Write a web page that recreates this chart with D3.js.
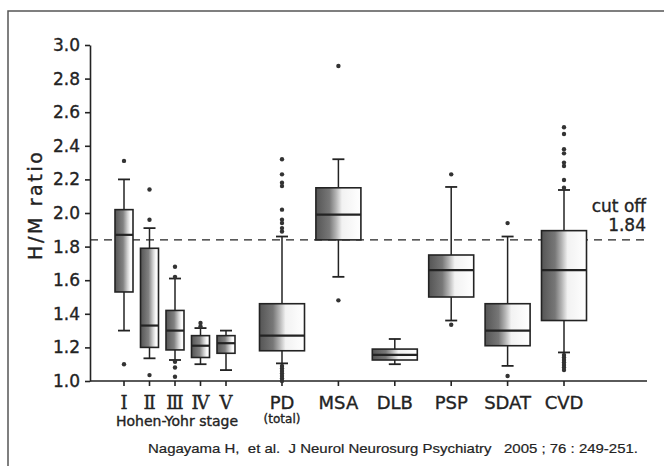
<!DOCTYPE html>
<html>
<head>
<meta charset="utf-8">
<script src="https://cdn.jsdelivr.net/npm/d3@7"></script>
<style>
  body { margin: 0; background: #fff; }
  svg { display: block; }
  svg text { stroke: #232323; stroke-width: 0.35px; }
</style>
</head>
<body>
<div id="chart"></div>
<script>
// H/M ratio per group (box plot)
var stages = ['Ⅰ', 'Ⅱ', 'Ⅲ', 'Ⅳ', 'Ⅴ'];
var groups = ['PD', 'MSA', 'DLB', 'PSP', 'SDAT', 'CVD'];
var categories = stages.concat(groups);

var whiskerLow  = [1.30, 1.135, 1.125, 1.10, 1.065, 1.105, 1.62, 1.10, 1.36, 1.09, 1.17];
var q1          = [1.53, 1.20, 1.185, 1.14, 1.165, 1.18, 1.84, 1.125, 1.50, 1.21, 1.36];
var median      = [1.87, 1.33, 1.30, 1.21, 1.225, 1.27, 1.99, 1.155, 1.66, 1.30, 1.66];
var q3          = [2.02, 1.79, 1.42, 1.27, 1.27, 1.46, 2.15, 1.19, 1.75, 1.46, 1.895];
var whiskerHigh = [2.20, 1.91, 1.61, 1.315, 1.30, 1.86, 2.32, 1.25, 2.155, 1.86, 2.137];
var outliers = [
  [2.31, 1.10],
  [2.14, 1.96, 1.035],
  [1.68, 1.62, 1.115, 1.08, 1.025],
  [1.345, 1.325],
  [],
  [2.32, 2.23, 2.18, 2.16, 2.02, 1.96, 1.94, 1.91, 1.89, 1.09, 1.075, 1.06, 1.045, 1.03, 1.015, 1.0],
  [2.875, 1.48],
  [],
  [2.23, 1.335],
  [1.94, 1.03],
  [2.51, 2.47, 2.38, 2.355, 2.30, 2.28, 2.196, 2.15, 1.155, 1.14, 1.125, 1.11, 1.095, 1.08, 1.065]
];

var yTicks = [1.0, 1.2, 1.4, 1.6, 1.8, 2.0, 2.2, 2.4, 2.6, 2.8, 3.0];
var cutOff = 1.84;

var width = 664, height = 466;
var ink = '#232323';
var sans = 'DejaVu Sans, Arial, sans-serif';

var svg = d3.select('#chart').append('svg')
  .attr('width', width)
  .attr('height', height);

var y = d3.scaleLinear().domain([1, 3]).range([381, 45]);
var xStage = d3.scalePoint().domain(stages).range([124, 226]);
var xGroup = d3.scalePoint().domain(groups).range([282, 564]);

function isStage(c) { return stages.indexOf(c) >= 0; }
function xPos(c) { return isStage(c) ? xStage(c) : xGroup(c); }
function boxW(c) { return isStage(c) ? 18 : 45; }

// shaded fill: dark on the left fading to white
var defs = svg.append('defs');
function addGrad(id, stops) {
  var g = defs.append('linearGradient').attr('id', id)
    .attr('x1', '0').attr('x2', '1').attr('y1', '0').attr('y2', '0');
  stops.forEach(function(s) {
    g.append('stop').attr('offset', s[0]).attr('stop-color', s[1]);
  });
}
addGrad('fillWide', [[0, '#555'], [0.3, '#777'], [0.45, '#b5b5b5'], [0.58, '#f2f2f2'], [1, '#fff']]);
addGrad('fillNarrow', [[0, '#555'], [0.45, '#818181'], [0.7, '#d2d2d2'], [0.85, '#fafafa'], [1, '#fff']]);

// frame round the figure
svg.append('rect')
  .attr('x', 8).attr('y', 11)
  .attr('width', 700).attr('height', 500)
  .attr('fill', 'none')
  .attr('stroke', '#555')
  .attr('stroke-width', 1.5);

// y axis
var yAxis = d3.axisLeft(y)
  .tickValues(yTicks)
  .tickFormat(d3.format('.1f'))
  .tickSizeInner(5)
  .tickSizeOuter(0)
  .tickPadding(5);

var gy = svg.append('g').attr('transform', 'translate(90,0)').call(yAxis);
gy.select('.domain').attr('stroke', ink).attr('stroke-width', 1.6);
gy.selectAll('.tick line').attr('stroke', ink).attr('stroke-width', 1.6);
gy.selectAll('.tick text')
  .attr('fill', ink)
  .style('font-family', sans)
  .style('font-size', '17px');

svg.append('text')
  .attr('transform', 'translate(42,206) rotate(-90)')
  .attr('text-anchor', 'middle')
  .attr('fill', ink)
  .attr('textLength', 108)
  .attr('lengthAdjust', 'spacing')
  .style('font-family', sans)
  .style('font-size', '19px')
  .text('H/M ratio');

// x axis line and ticks
svg.append('line')
  .attr('x1', 90).attr('x2', 647)
  .attr('y1', y(1)).attr('y2', y(1))
  .attr('stroke', ink).attr('stroke-width', 1.6);

svg.selectAll('.xtick')
  .data(categories)
  .enter()
  .append('line')
  .attr('class', 'xtick')
  .attr('x1', function(d) { return xPos(d); })
  .attr('x2', function(d) { return xPos(d); })
  .attr('y1', y(1)).attr('y2', y(1) + 5)
  .attr('stroke', ink).attr('stroke-width', 1.6);

svg.selectAll('.xlabel')
  .data(categories)
  .enter()
  .append('text')
  .attr('class', 'xlabel')
  .attr('x', function(d) { return xPos(d); })
  .attr('y', 409)
  .attr('text-anchor', 'middle')
  .attr('fill', ink)
  .style('font-family', function(d) { return isStage(d) ? 'DejaVu Serif, Liberation Serif, serif' : sans; })
  .style('font-size', '18px')
  .text(function(d) { return d; });

svg.append('text')
  .attr('x', xGroup('PD')).attr('y', 423)
  .attr('text-anchor', 'middle')
  .attr('fill', ink)
  .style('font-family', sans)
  .style('font-size', '12px')
  .text('(total)');

svg.append('text')
  .attr('x', 177).attr('y', 426)
  .attr('text-anchor', 'middle')
  .attr('fill', ink)
  .attr('textLength', 122)
  .attr('lengthAdjust', 'spacingAndGlyphs')
  .style('font-family', sans)
  .style('font-size', '13.5px')
  .text('Hohen-Yohr stage');

// cut off line
svg.append('line')
  .attr('x1', 90).attr('x2', 647)
  .attr('y1', y(cutOff)).attr('y2', y(cutOff))
  .attr('stroke', ink)
  .attr('stroke-width', 1.4)
  .attr('stroke-dasharray', '8,6');

svg.append('text')
  .attr('x', 646).attr('y', 212)
  .attr('text-anchor', 'end')
  .attr('fill', ink)
  .style('font-family', sans)
  .style('font-size', '17px')
  .text('cut off');

svg.append('text')
  .attr('x', 646).attr('y', 231)
  .attr('text-anchor', 'end')
  .attr('fill', ink)
  .style('font-family', sans)
  .style('font-size', '17px')
  .text(cutOff.toFixed(2));

// boxes
var boxes = svg.selectAll('.box')
  .data(categories)
  .enter()
  .append('g')
  .attr('class', 'box');

boxes.append('line') // whisker, low side
  .attr('x1', function(d) { return xPos(d); })
  .attr('x2', function(d) { return xPos(d); })
  .attr('y1', function(d, i) { return y(whiskerLow[i]); })
  .attr('y2', function(d, i) { return y(q1[i]); })
  .attr('stroke', ink).attr('stroke-width', 1.5);

boxes.append('line') // whisker, high side
  .attr('x1', function(d) { return xPos(d); })
  .attr('x2', function(d) { return xPos(d); })
  .attr('y1', function(d, i) { return y(q3[i]); })
  .attr('y2', function(d, i) { return y(whiskerHigh[i]); })
  .attr('stroke', ink).attr('stroke-width', 1.5);

[whiskerLow, whiskerHigh].forEach(function(arr) {
  boxes.append('line')
    .attr('x1', function(d) { return xPos(d) - 6; })
    .attr('x2', function(d) { return xPos(d) + 6; })
    .attr('y1', function(d, i) { return y(arr[i]); })
    .attr('y2', function(d, i) { return y(arr[i]); })
    .attr('stroke', ink).attr('stroke-width', 1.8);
});

boxes.append('rect')
  .attr('x', function(d) { return xPos(d) - boxW(d) / 2; })
  .attr('width', function(d) { return boxW(d); })
  .attr('y', function(d, i) { return y(q3[i]); })
  .attr('height', function(d, i) { return y(q1[i]) - y(q3[i]); })
  .attr('fill', function(d) { return isStage(d) ? 'url(#fillNarrow)' : 'url(#fillWide)'; })
  .attr('stroke', ink).attr('stroke-width', 1.6);

boxes.append('line') // median
  .attr('x1', function(d) { return xPos(d) - boxW(d) / 2; })
  .attr('x2', function(d) { return xPos(d) + boxW(d) / 2; })
  .attr('y1', function(d, i) { return y(median[i]); })
  .attr('y2', function(d, i) { return y(median[i]); })
  .attr('stroke', ink).attr('stroke-width', 2.2);

boxes.selectAll('circle')
  .data(function(d, i) { return outliers[i].map(function(v) { return {c: d, v: v}; }); })
  .enter()
  .append('circle')
  .attr('cx', function(o) { return xPos(o.c); })
  .attr('cy', function(o) { return y(o.v); })
  .attr('r', 2.2)
  .attr('fill', '#333');

// source line
svg.append('text')
  .attr('x', 148).attr('y', 453)
  .attr('fill', ink)
  .attr('textLength', 490)
  .attr('lengthAdjust', 'spacingAndGlyphs')
  .style('font-family', 'Liberation Sans, Arial, sans-serif')
  .style('font-size', '13.5px')
  .style('stroke-width', '0.2px')
  .attr('xml:space', 'preserve')
  .text('Nagayama H,  et al.  J Neurol Neurosurg Psychiatry   2005 ; 76 : 249-251.');
</script>
</body>
</html>
